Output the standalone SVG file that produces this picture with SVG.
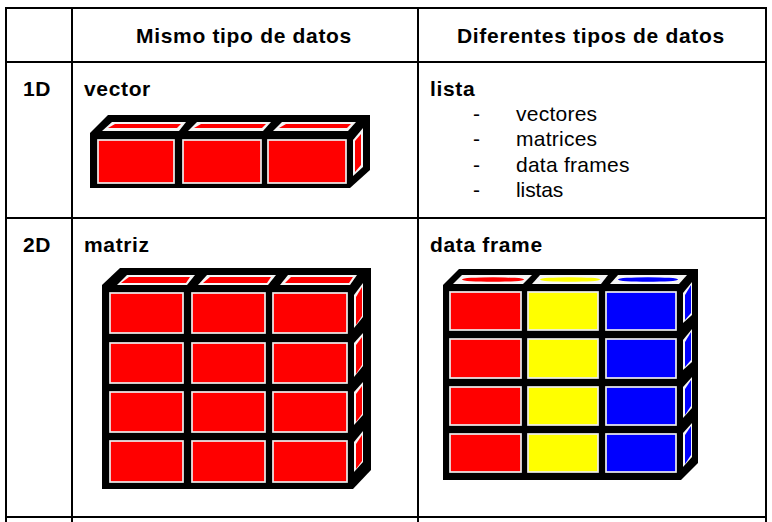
<svg xmlns="http://www.w3.org/2000/svg" width="772" height="522" viewBox="0 0 772 522">
<style>
.t{font-family:"Liberation Sans",Arial,sans-serif;font-size:21px;fill:#000;letter-spacing:.25px}
.b{font-weight:bold;letter-spacing:.65px}
.h{font-weight:bold;letter-spacing:.68px}
.l{letter-spacing:-.1px}
.grid line{stroke:#000;stroke-width:2}
.box{fill:#000}
.r{fill:#f00}.y{fill:#ff0}.u{fill:#00f}
.c{stroke:#eee;stroke-width:1.7}
.w{fill:#f6f6f6}
.soft{filter:url(#blur)}
</style>
<defs><filter id="blur" x="-5%" y="-5%" width="110%" height="110%"><feGaussianBlur stdDeviation="0.5"/></filter></defs>
<rect width="772" height="522" fill="#fff"/>
<g id="table" class="grid">
<line x1="5" y1="8" x2="767" y2="8"/><line x1="5" y1="62" x2="767" y2="62"/><line x1="5" y1="218" x2="767" y2="218"/><line x1="5" y1="517" x2="767" y2="517"/>
<line x1="6" y1="7" x2="6" y2="522"/><line x1="72" y1="7" x2="72" y2="522"/><line x1="418" y1="7" x2="418" y2="522"/><line x1="766" y1="7" x2="766" y2="522"/>
</g>
<g id="labels">
<text class="t h" x="136" y="43">Mismo tipo de datos</text>
<text class="t h" x="457" y="43">Diferentes tipos de datos</text>
<text class="t b" x="23" y="96">1D</text>
<text class="t b" x="84" y="96">vector</text>
<text class="t b" x="430" y="96">lista</text>
<text class="t" x="473" y="121">-</text><text class="t" x="516" y="121">vectores</text>
<text class="t" x="473" y="146">-</text><text class="t" x="516" y="146">matrices</text>
<text class="t" x="473" y="172">-</text><text class="t" x="516" y="172">data frames</text>
<text class="t" x="473" y="197">-</text><text class="t l" x="516" y="197">listas</text>
<text class="t b" x="23" y="252">2D</text>
<text class="t b" x="84" y="252">matriz</text>
<text class="t b" x="430" y="252">data frame</text>
</g>
<g id="vector" class="soft">
<polygon class="box" points="90,133 108,115 370,115 370,170 350,188 90,188"/>
<polygon class="w" points="102,131 112,122 186,122 179,131"/><polygon class="r" points="108,128 115,124 181,124 177,128"/>
<polygon class="w" points="188,131 197,122 271,122 263,131"/><polygon class="r" points="194,128 201,124 266,124 262,128"/>
<polygon class="w" points="273,131 282,122 356,122 348,131"/><polygon class="r" points="279,128 286,124 351,124 347,128"/>
<rect class="r c" x="98" y="140" width="76" height="43"/>
<rect class="r c" x="183" y="140" width="78" height="43"/>
<rect class="r c" x="268" y="140" width="78" height="43"/>
<polygon class="w" points="353,140 363,128 363,167 353,176"/><polygon class="r" points="355,141 361,134 361,165 355,172"/>
</g>
<g id="matriz" class="soft">
<polygon class="box" points="102,285 120,268 371,268 371,470 353,489 102,489"/>
<polygon class="w" points="117,285 127,275 195,275 187,285"/><polygon class="r" points="121,283 129,277 190,277 186,283"/>
<polygon class="w" points="198,285 207,275 276,275 268,285"/><polygon class="r" points="203,283 210,277 271,277 267,283"/>
<polygon class="w" points="280,285 288,275 357,275 350,285"/><polygon class="r" points="285,283 291,277 353,277 349,283"/>
<rect class="r c" x="110" y="293" width="73" height="40"/><rect class="r c" x="192" y="293" width="73" height="40"/><rect class="r c" x="273" y="293" width="74" height="40"/>
<rect class="r c" x="110" y="343" width="73" height="40"/><rect class="r c" x="192" y="343" width="73" height="40"/><rect class="r c" x="273" y="343" width="74" height="40"/>
<rect class="r c" x="110" y="392" width="73" height="40"/><rect class="r c" x="192" y="392" width="73" height="40"/><rect class="r c" x="273" y="392" width="74" height="40"/>
<rect class="r c" x="110" y="441" width="73" height="41"/><rect class="r c" x="192" y="441" width="73" height="41"/><rect class="r c" x="273" y="441" width="74" height="41"/>
<polygon class="w" points="354,295 363,283 363,317 354,328"/><polygon class="r" points="356,297 362,287 362,316 356,325"/>
<polygon class="w" points="354,343 363,333 363,366 354,377"/><polygon class="r" points="356,345 362,337 362,365 356,374"/>
<polygon class="w" points="354,392 363,382 363,415 354,425"/><polygon class="r" points="356,394 362,386 362,414 356,422"/>
<polygon class="w" points="354,442 363,431 363,462 354,472"/><polygon class="r" points="356,444 362,435 362,461 356,469"/>
</g>
<g id="dataframe" class="soft">
<polygon class="box" points="443,285 459,269 698,269 698,463 681,480 443,480"/>
<polygon class="w" points="453,284 462,275 532,275 523,284"/><ellipse class="r" cx="493" cy="279.500" rx="31" ry="2.300"/>
<polygon class="w" points="532,284 540,275 608,275 601,284"/><ellipse class="y" cx="570" cy="279.500" rx="30" ry="2.300"/>
<polygon class="w" points="610,284 618,275 687,275 679,284"/><ellipse class="u" cx="648" cy="279.500" rx="30" ry="2.300"/>
<rect class="r c" x="450" y="292" width="71" height="38"/><rect class="y c" x="528" y="292" width="70" height="38"/><rect class="u c" x="606" y="292" width="70" height="38"/>
<rect class="r c" x="450" y="339" width="71" height="39"/><rect class="y c" x="528" y="339" width="70" height="39"/><rect class="u c" x="606" y="339" width="70" height="39"/>
<rect class="r c" x="450" y="387" width="71" height="38"/><rect class="y c" x="528" y="387" width="70" height="38"/><rect class="u c" x="606" y="387" width="70" height="38"/>
<rect class="r c" x="450" y="434" width="71" height="38"/><rect class="y c" x="528" y="434" width="70" height="38"/><rect class="u c" x="606" y="434" width="70" height="38"/>
<polygon class="w" points="683,293 692,282 692,315 683,323"/><polygon class="u" points="685,295 691,285 691,313 685,320"/>
<polygon class="w" points="683,340 692,329 692,362 683,370"/><polygon class="u" points="685,342 691,332 691,360 685,367"/>
<polygon class="w" points="683,387 692,377 692,408 683,418"/><polygon class="u" points="685,389 691,380 691,406 685,415"/>
<polygon class="w" points="683,433 692,423 692,457 683,467"/><polygon class="u" points="685,435 691,426 691,455 685,464"/>
</g>
</svg>
